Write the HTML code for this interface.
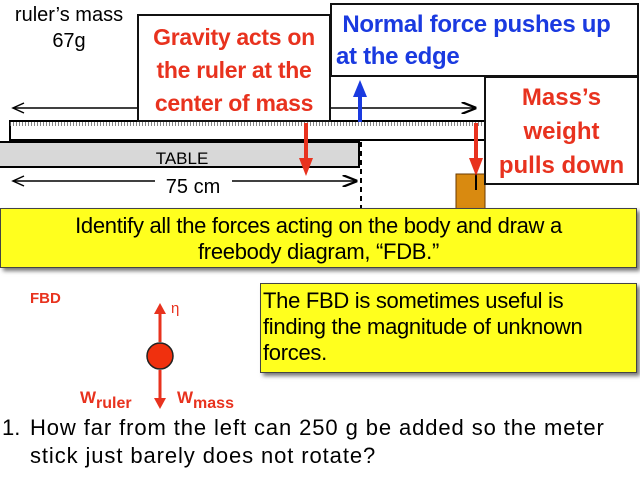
<!DOCTYPE html>
<html><head><style>
body{margin:0;width:640px;height:480px;background:#fff;position:relative;overflow:hidden;font-family:"Liberation Sans",sans-serif}
.a{position:absolute}
.box{position:absolute;background:#fff;border:2px solid #111;box-sizing:border-box;text-align:center;font-weight:bold;white-space:nowrap}
</style></head><body>
<div class="a" style="left:4px;top:2px;font-size:20px;line-height:26px;text-align:center;width:130px">ruler’s mass<br>67g</div>
<svg class="a" style="left:0;top:0" width="640" height="480">
<defs>
<marker id="k" markerWidth="10" markerHeight="8" refX="9" refY="4" orient="auto"><path d="M0,0L10,4L0,8" fill="none" stroke="#000" stroke-width="1.5"/></marker>
</defs>
<line x1="14" y1="108" x2="475" y2="108" stroke="#000" stroke-width="1.5" marker-end="url(#k)"/>
<path d="M24,103L13,108L24,113" fill="none" stroke="#000" stroke-width="1.5"/>
<rect x="10" y="121" width="476" height="19" fill="#fff" stroke="#000" stroke-width="2"/>
<line x1="10" y1="124" x2="486" y2="124" stroke="#666" stroke-width="4" stroke-dasharray="0.8,2.2"/>
<rect x="-2" y="142" width="361" height="25" fill="#d8d8d8" stroke="#000" stroke-width="2"/>
<text x="182" y="164" font-size="17" text-anchor="middle" font-family="Liberation Sans">TABLE</text>
<line x1="361" y1="142" x2="361" y2="210" stroke="#000" stroke-width="2" stroke-dasharray="5,4"/>
<line x1="14" y1="181" x2="155" y2="181" stroke="#000" stroke-width="1.5"/>
<line x1="232" y1="181" x2="356" y2="181" stroke="#000" stroke-width="1.5" marker-end="url(#k)"/>
<path d="M24,176L13,181L24,186" fill="none" stroke="#000" stroke-width="1.5"/>
<text x="193" y="193" font-size="20" text-anchor="middle" font-family="Liberation Sans">75 cm</text>
<rect x="456" y="174" width="29" height="36" fill="#d98a10" stroke="#6a3a00"/>
<line x1="476" y1="174" x2="476" y2="190" stroke="#000" stroke-width="2"/>
<line x1="306" y1="123" x2="306" y2="160" stroke="#e8321e" stroke-width="4"/>
<path d="M299,158L306,176L313,158z" fill="#e8321e"/>
<line x1="476" y1="123" x2="476" y2="160" stroke="#e8321e" stroke-width="4"/>
<path d="M469,158L476,176L483,158z" fill="#e8321e"/>
<line x1="360" y1="122" x2="360" y2="95" stroke="#1a3ae0" stroke-width="4"/>
<path d="M353,97L360,80L367,97z" fill="#1a3ae0"/>
<circle cx="160" cy="356" r="13" fill="#f0300e" stroke="#222" stroke-width="1.5"/>
<line x1="160" y1="342" x2="160" y2="312" stroke="#e8321e" stroke-width="3"/>
<path d="M154,314L160,303L166,314z" fill="#e8321e"/>
<line x1="160" y1="370" x2="160" y2="400" stroke="#e8321e" stroke-width="3"/>
<path d="M154,398L160,409L166,398z" fill="#e8321e"/>
</svg>
<div class="box" style="left:137px;top:14px;width:194px;height:108px;color:#e8321e;font-size:23px;line-height:33px;padding-top:5px;letter-spacing:-0.3px">Gravity acts on<br>the ruler at the<br>center of mass</div>
<div class="box" style="left:330px;top:3px;width:309px;height:74px;color:#1a3ae0;font-size:24px;line-height:32px;text-align:left;padding:4px 0 0 4px;letter-spacing:-0.3px">&nbsp;Normal force pushes up<br>at the edge</div>
<div class="box" style="left:484px;top:76px;width:155px;height:109px;color:#e8321e;font-size:24px;line-height:34px;padding-top:3px">Mass’s<br>weight<br>pulls down</div>
<div class="a" style="left:0;top:208px;width:637px;height:60px;background:#ffff1e;border:1px solid #444;box-shadow:3px 3px 4px #777;text-align:center;font-size:22px;line-height:26px;padding-top:4px;box-sizing:border-box;white-space:nowrap;letter-spacing:-0.3px">Identify all the forces acting on the body and draw a<br>freebody diagram, “FDB.”</div>
<div class="a" style="left:30px;top:290px;color:#e8321e;font-weight:bold;font-size:15px">FBD</div>
<div class="a" style="left:171px;top:300px;color:#e8321e;font-size:15px">η</div>
<div class="a" style="left:80px;top:388px;color:#e8321e;font-weight:bold;font-size:17px">W<span style="font-size:16px;position:relative;top:5px">ruler</span></div>
<div class="a" style="left:177px;top:388px;color:#e8321e;font-weight:bold;font-size:17px">W<span style="font-size:16px;position:relative;top:5px">mass</span></div>
<div class="a" style="left:260px;top:283px;width:377px;height:90px;background:#ffff1e;border:1px solid #444;box-shadow:3px 3px 4px #777;font-size:22px;line-height:26px;padding:4px 0 0 2px;box-sizing:border-box;white-space:nowrap;letter-spacing:-0.3px">The FBD is sometimes useful is<br>finding the magnitude of unknown<br>forces.</div>
<div class="a" style="left:2px;top:414px;font-size:22px;line-height:28px">1.</div>
<div class="a" style="left:30px;top:414px;font-size:22px;line-height:28px;white-space:nowrap;letter-spacing:0.9px">How far from the left can 250 g be added so the meter<br>stick just barely does not rotate?</div>
</body></html>
